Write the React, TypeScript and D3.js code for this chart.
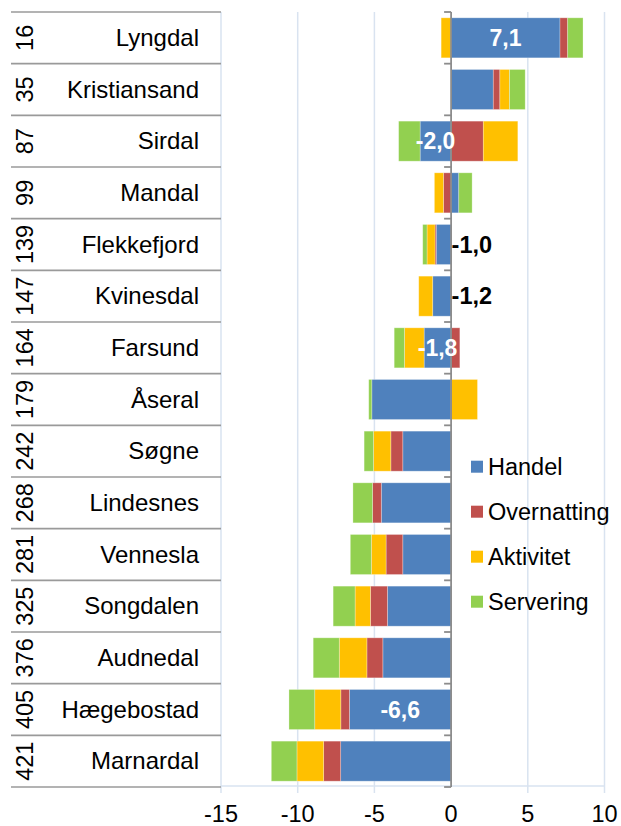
import React, { useEffect } from "react";
import * as d3 from "d3";

const ranks = [16, 35, 87, 99, 139, 147, 164, 179, 242, 268, 281, 325, 376, 405, 421];
const names = [
  "Lyngdal", "Kristiansand", "Sirdal", "Mandal", "Flekkefjord", "Kvinesdal", "Farsund",
  "Åseral", "Søgne", "Lindesnes", "Vennesla", "Songdalen", "Audnedal", "Hægebostad", "Marnardal",
];
const handel = [7.1, 2.75, -2.02, 0.5, -0.97, -1.2, -1.76, -5.17, -3.15, -4.55, -3.15, -4.15, -4.45, -6.63, -7.2];
const overnatting = [0.5, 0.43, 2.1, -0.5, -0.08, 0, 0.57, 0, -0.78, -0.57, -1.09, -1.11, -1.04, -0.56, -1.11];
const aktivitet = [-0.65, 0.63, 2.25, -0.59, -0.52, -0.91, -1.28, 1.72, -1.13, 0, -0.96, -1.0, -1.8, -1.7, -1.74];
const servering = [1.0, 1.02, -1.4, 0.87, -0.28, 0, -0.67, -0.2, -0.61, -1.28, -1.37, -1.43, -1.7, -1.68, -1.67];
const labelModes = ["in", "none", "in", "none", "out", "out", "in", "none", "none", "none", "none", "none", "none", "in", "none"];

const seriesNames = ["Handel", "Overnatting", "Aktivitet", "Servering"];
const seriesColors = ["#4F81BD", "#C0504D", "#FFC000", "#92D050"];
const xTicks = [-15, -10, -5, 0, 5, 10];

const W = 621;
const H = 826;
const FONT = "'Liberation Sans', Arial, sans-serif";

export default function App() {
  useEffect(() => {
    document.body.style.margin = "0";
  }, []);

  const rows = names.map((n, i) => ({
    name: n,
    Handel: handel[i],
    Overnatting: overnatting[i],
    Aktivitet: aktivitet[i],
    Servering: servering[i],
  }));

  const x = d3.scaleLinear().domain([-15, 10]).range([221, 604.5]);
  const y = d3
    .scaleBand<string>()
    .domain(names)
    .range([12, 787])
    .paddingInner(0.225)
    .paddingOuter(0.1125);
  const step = y.step();
  const top = 12;
  const bottom = 787;

  const stack = d3
    .stack<any>()
    .keys(seriesNames)
    .offset(d3.stackOffsetDiverging);
  const layers = stack(rows);

  const fmt = (v: number) => v.toFixed(1).replace(".", ",");

  const gridColor = "#D9E3F0";
  const axisGray = "#8C8C8C";

  return (
    <svg width={W} height={H} style={{ position: "absolute", left: 0, top: 0, background: "#fff" }} fontFamily={FONT}>
      {/* gridlines */}
      {xTicks
        .filter((t) => t !== 0)
        .map((t) => (
          <line key={"g" + t} x1={x(t)} x2={x(t)} y1={top} y2={bottom + 6} stroke={gridColor} strokeWidth={1.5} />
        ))}
      {/* horizontal axis line */}
      <line x1={x(-15)} x2={x(10)} y1={bottom - 1} y2={bottom - 1} stroke={gridColor} strokeWidth={1.5} />

      {/* table lines */}
      {d3.range(names.length + 1).map((i) => (
        <line
          key={"t" + i}
          x1={11}
          x2={x(-15)}
          y1={top + i * step}
          y2={top + i * step}
          stroke="#9A9A9A"
          strokeWidth={1.6}
        />
      ))}

      {/* rank numbers & names */}
      {names.map((n, i) => {
        const cy = (y(n) as number) + y.bandwidth() / 2;
        return (
          <g key={"lab" + n}>
            <text
              transform={`translate(33,${cy}) rotate(-90)`}
              textAnchor="middle"
              fontSize={23.5}
              fill="#000"
            >
              {ranks[i]}
            </text>
            <text x={199} y={cy + 8} textAnchor="end" fontSize={24} fill="#000">
              {n}
            </text>
          </g>
        );
      })}

      {/* bars */}
      {layers.map((layer, si) => (
        <g key={"s" + si} fill={seriesColors[si]}>
          {layer.map((d, i) => {
            const x0 = x(Math.min(d[0], d[1]));
            const x1 = x(Math.max(d[0], d[1]));
            if (x1 - x0 < 0.01) return null;
            return (
              <rect
                key={i}
                x={x0}
                y={y(names[i])}
                width={x1 - x0}
                height={y.bandwidth()}
                stroke="#ffffff"
                strokeOpacity={0.35}
                strokeWidth={0.8}
              />
            );
          })}
        </g>
      ))}

      {/* vertical axis at 0 */}
      <line x1={x(0)} x2={x(0)} y1={top} y2={bottom} stroke={axisGray} strokeWidth={1.8} />
      {d3.range(names.length + 1).map((i) => (
        <line
          key={"yt" + i}
          x1={x(0) - 7}
          x2={x(0)}
          y1={top + i * step}
          y2={top + i * step}
          stroke={axisGray}
          strokeWidth={1.8}
        />
      ))}

      {/* data labels */}
      {layers[0].map((d, i) => {
        const mode = labelModes[i];
        if (mode === "none") return null;
        const cy = (y(names[i]) as number) + y.bandwidth() / 2;
        const v = handel[i];
        if (mode === "in") {
          const cx = (x(d[0]) + x(d[1])) / 2;
          return (
            <text key={"dl" + i} x={cx} y={cy + 8} textAnchor="middle" fontSize={23} fontWeight="bold" fill="#fff">
              {fmt(v)}
            </text>
          );
        }
        return (
          <text key={"dl" + i} x={x(0) + 0.5} y={cy + 8} textAnchor="start" fontSize={23.5} fontWeight="bold" fill="#000">
            {fmt(v)}
          </text>
        );
      })}

      {/* x tick labels */}
      {xTicks.map((t) => (
        <text key={"xt" + t} x={x(t)} y={822} textAnchor="middle" fontSize={23.5} fill="#000">
          {t}
        </text>
      ))}

      {/* legend */}
      {seriesNames.map((s, i) => {
        const cy = 466.7 + i * 45;
        return (
          <g key={"lg" + s}>
            <rect x={471} y={cy - 6} width={12} height={12} fill={seriesColors[i]} />
            <text x={488} y={cy + 8} fontSize={23.5} fill="#000">
              {s}
            </text>
          </g>
        );
      })}
    </svg>
  );
}
